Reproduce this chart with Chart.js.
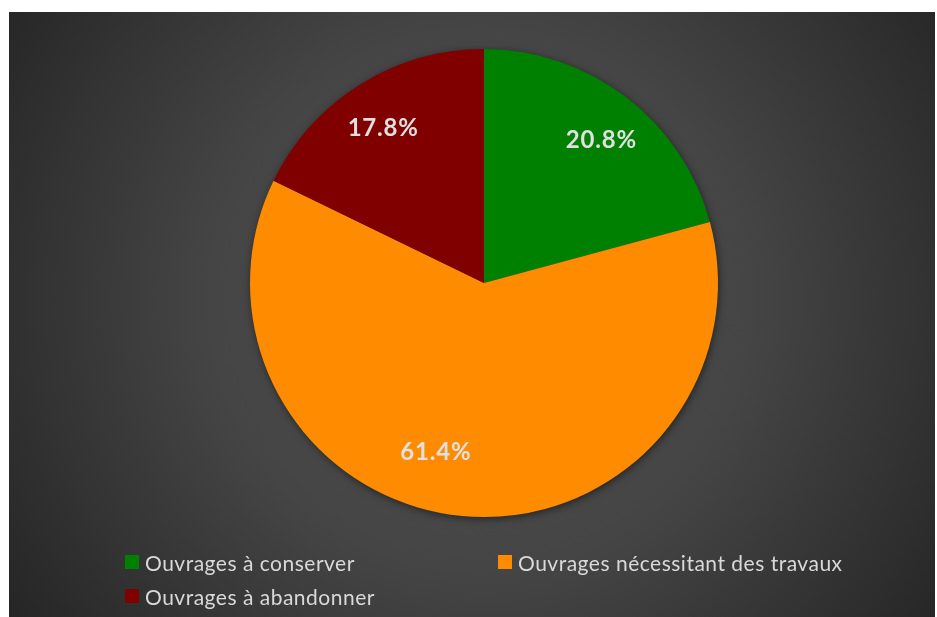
<!DOCTYPE html>
<html>
<head>
<meta charset="utf-8">
<script src="https://cdn.jsdelivr.net/npm/chart.js@4"></script>
<style>
  html, body { margin: 0; padding: 0; background: #ffffff; }
  #wrap { position: relative; width: 937px; height: 617px; }
  #c { position: absolute; left: 0; top: 0; }
  .lg { position: absolute; display: flex; align-items: center; font-family: Lato, "Open Sans", sans-serif; font-size: 21px; letter-spacing: 0.5px; color: #d9d9d9; white-space: nowrap; }
  .lg .sw { width: 14px; height: 14px; margin-right: 6px; }
</style>
</head>
<body>
<div id="wrap">
  <canvas id="c" width="937" height="617"></canvas>
  <div id="legend"></div>
</div>
<script>
const categories = ["Ouvrages à conserver", "Ouvrages nécessitant des travaux", "Ouvrages à abandonner"];
const shares = [20.8, 61.4, 17.8];
const sliceColors = ["#008000", "#FF8C00", "#800000"];

const bgPlugin = {
  id: 'bg',
  beforeDraw(chart) {
    const ctx = chart.ctx;
    const x0 = 9, y0 = 12, x1 = 935, y1 = 617;
    const g = ctx.createRadialGradient(480, 300, 0, 480, 300, 600);
    g.addColorStop(0, '#505050');
    g.addColorStop(0.45, '#454545');
    g.addColorStop(1, '#222222');
    ctx.save();
    ctx.fillStyle = g;
    ctx.fillRect(x0, y0, x1 - x0, y1 - y0);
    ctx.restore();
  }
};

const shadowPlugin = {
  id: 'pieShadow',
  beforeDatasetsDraw(chart) {
    const arc = chart.getDatasetMeta(0).data[0];
    if (!arc) return;
    const ctx = chart.ctx;
    ctx.save();
    ctx.shadowColor = 'rgba(0,0,0,0.55)';
    ctx.shadowBlur = 8;
    ctx.shadowOffsetX = 1;
    ctx.shadowOffsetY = 2;
    ctx.fillStyle = '#333';
    ctx.beginPath();
    ctx.arc(arc.x, arc.y, arc.outerRadius - 0.5, 0, Math.PI * 2);
    ctx.fill();
    ctx.restore();
  }
};

const labelPlugin = {
  id: 'sliceLabels',
  afterDatasetsDraw(chart, args, opts) {
    const ctx = chart.ctx;
    const meta = chart.getDatasetMeta(0);
    ctx.save();
    ctx.font = 'bold 24px Lato, "Open Sans", sans-serif';
    if ('letterSpacing' in ctx) ctx.letterSpacing = '0.8px';
    ctx.fillStyle = '#e0e0e0';
    ctx.textAlign = 'center';
    ctx.textBaseline = 'middle';
    meta.data.forEach((arc, i) => {
      const mid = (arc.startAngle + arc.endAngle) / 2 + (opts.angleShift[i] || 0) * Math.PI / 180;
      const r = arc.outerRadius * opts.radiusFactor[i];
      const x = arc.x + Math.cos(mid) * r;
      const y = arc.y + Math.sin(mid) * r;
      const v = chart.data.datasets[0].data[i];
      ctx.fillText(v.toFixed(1) + '%', x, y);
    });
    ctx.restore();
  }
};

const chart = new Chart(document.getElementById('c'), {
  type: 'pie',
  data: {
    labels: categories,
    datasets: [{
      data: shares,
      backgroundColor: sliceColors,
      borderWidth: 0
    }]
  },
  options: {
    responsive: false,
    animation: false,
    layout: { padding: { top: 49, bottom: 100, left: 31, right: 0 } },
    plugins: {
      legend: { display: false },
      tooltip: { enabled: false },
      sliceLabels: { radiusFactor: [0.79, 0.75, 0.79], angleShift: [2, 10.5, -1] }
    }
  },
  plugins: [bgPlugin, shadowPlugin, labelPlugin]
});

// HTML legend built from the chart's own legend items
const legendPos = [[125, 562], [498, 562], [125, 596]];
const items = Chart.overrides.pie.plugins.legend.labels.generateLabels(chart);
const lg = document.getElementById('legend');
items.forEach((it, i) => {
  const d = document.createElement('div');
  d.className = 'lg';
  d.style.left = legendPos[i][0] + 'px';
  d.style.top = (legendPos[i][1] - 13) + 'px';
  d.style.height = '26px';
  const sw = document.createElement('span');
  sw.className = 'sw';
  sw.style.background = it.fillStyle;
  const t = document.createElement('span');
  t.textContent = it.text;
  d.appendChild(sw);
  d.appendChild(t);
  lg.appendChild(d);
});
</script>
</body>
</html>
